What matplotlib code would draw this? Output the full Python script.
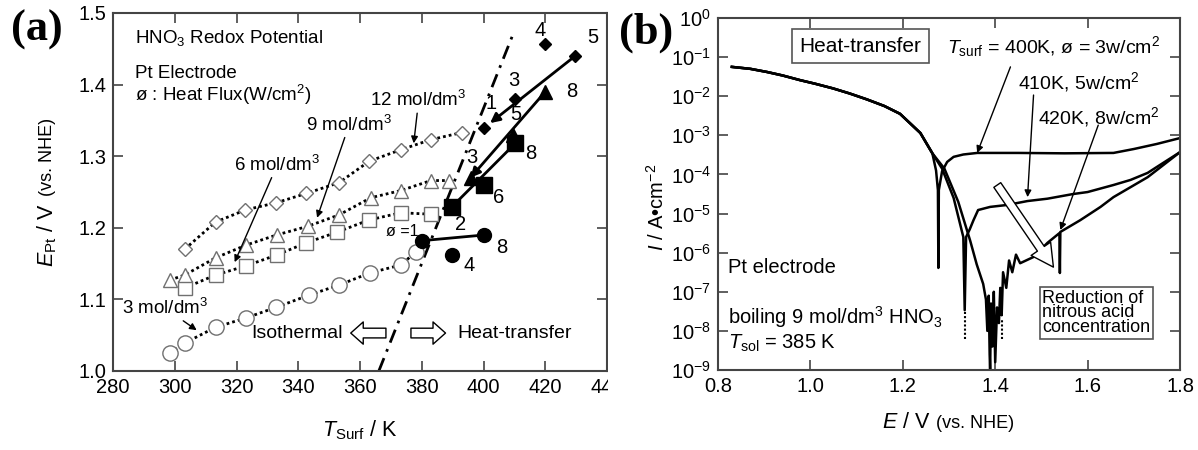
import matplotlib
matplotlib.use("Agg")
import numpy as np
import matplotlib.pyplot as plt
from matplotlib.patches import Rectangle
from matplotlib.ticker import LogLocator, NullLocator, FormatStrFormatter

plt.rcParams['font.family'] = ['Liberation Sans', 'DejaVu Sans']
plt.rcParams['mathtext.fontset'] = 'custom'
plt.rcParams['mathtext.rm'] = 'Liberation Sans'
plt.rcParams['mathtext.it'] = 'Liberation Sans:italic'
plt.rcParams['mathtext.bf'] = 'Liberation Sans:bold'

# ---------------- panel (a): redox potential vs surface temperature
# isothermal points (open markers)
t_3m = [298.4, 303.2, 313.2, 323.0, 332.9, 343.5, 353.2, 363.2, 373.2, 378.0]
e_3m = [1.025, 1.039, 1.061, 1.074, 1.089, 1.106, 1.120, 1.137, 1.148, 1.166]
t_6m = [303.2, 313.2, 323.2, 333.0, 342.6, 352.6, 363.0, 373.2, 383.0]
e_6m = [1.116, 1.134, 1.147, 1.162, 1.179, 1.194, 1.211, 1.221, 1.219]
t_9m = [298.4, 303.2, 313.2, 323.2, 333.0, 343.0, 353.2, 363.5, 373.2, 383.0, 388.7]
e_9m = [1.127, 1.134, 1.158, 1.176, 1.190, 1.202, 1.218, 1.242, 1.252, 1.266, 1.266]
t_12m = [303.2, 313.2, 322.9, 332.9, 342.6, 353.2, 363.0, 373.2, 382.9, 392.9]
e_12m = [1.170, 1.208, 1.225, 1.235, 1.248, 1.263, 1.293, 1.309, 1.323, 1.333]

# heat-transfer points (filled markers), labelled with heat flux
ht_t_3m = [380.0, 389.7, 400.3]
ht_e_3m = [1.182, 1.162, 1.190]
ht_phi_3m = ['ø =1', '4', '8']
ht_t_6m = [389.7, 400.3, 410.3]
ht_e_6m = [1.229, 1.260, 1.318]
ht_phi_6m = ['2', '6', '8']
ht_t_9m = [395.8, 409.7, 420.0]
ht_e_9m = [1.270, 1.330, 1.390]
ht_phi_9m = ['3', '5', '8']
ht_t_12m = [400.0, 410.3, 420.0, 429.7]
ht_e_12m = [1.339, 1.380, 1.457, 1.440]
ht_phi_12m = ['1', '3', '4', '5']

# isothermal / heat-transfer boundary
bound_t = [366.1, 410.0]
bound_e = [1.0, 1.475]

# ---------------- panel (b): polarisation curves (log10 of current density)
cath_e = [0.83, 0.87, 0.906, 0.94, 0.978, 1.01, 1.049, 1.085, 1.122, 1.16, 1.194, 1.238, 1.264]
cath_log = [-1.25, -1.30, -1.38, -1.47, -1.59, -1.68, -1.80, -1.93, -2.08, -2.25, -2.45, -2.94, -3.46]

c400_e = cath_e + [1.272, 1.276, 1.277, 1.278, 1.285, 1.296, 1.31, 1.331, 1.361, 1.45, 1.55,
                   1.656, 1.70, 1.75, 1.80]
c400_log = cath_log + [-3.90, -4.40, -6.39, -4.40, -3.92, -3.68, -3.55, -3.49, -3.45, -3.45, -3.46,
                       -3.45, -3.35, -3.22, -3.07]
c410_e = cath_e + [1.285, 1.31, 1.331, 1.334, 1.337, 1.345, 1.353, 1.363, 1.389, 1.426, 1.47,
                   1.513, 1.569, 1.60, 1.656, 1.693, 1.73, 1.751, 1.80]
c410_log = cath_log + [-3.85, -4.60, -5.60, -7.47, -5.60, -5.40, -5.17, -4.91, -4.83, -4.78, -4.68,
                       -4.62, -4.50, -4.45, -4.27, -4.14, -3.96, -3.80, -3.43]
c420_e = cath_e + [1.29, 1.32, 1.346, 1.36, 1.374, 1.380, 1.383, 1.386, 1.388, 1.389, 1.391, 1.394,
                   1.397, 1.40, 1.404, 1.408, 1.411, 1.414, 1.417, 1.424, 1.43, 1.437, 1.445, 1.454,
                   1.483, 1.513, 1.539, 1.540, 1.541, 1.584, 1.628, 1.656, 1.73, 1.80]
c420_log = cath_log + [-3.85, -4.70, -5.70, -6.30, -6.80, -7.20, -8.00, -7.10, -8.60, -9.0, -7.3, -8.4,
                       -7.0, -8.8, -7.4, -7.8, -6.9, -7.6, -6.5, -6.9, -6.2, -6.5, -6.05, -6.27,
                       -6.11, -5.75, -5.50, -6.52, -5.47, -5.17, -4.83, -4.58, -4.07, -3.43]
# dotted tails below the dips
tail_e = [1.335, 1.414]
tail_top = [-7.5, -7.7]
tail_bot = [-8.2, -8.2]

fig = plt.figure(figsize=(11.98, 4.5), dpi=100)
ax_a = fig.add_axes([113 / 1198, 1 - 371 / 450, 494 / 1198, 358 / 450])
ax_b = fig.add_axes([718 / 1198, 1 - 370 / 450, 462 / 1198, 352 / 450])
ax_b.set_zorder(2)


def style_axes(ax):
    for s in ax.spines.values():
        s.set_color('#444444')
        s.set_linewidth(1.5)
    ax.tick_params(direction='in', top=True, right=True, length=7, width=1.2,
                   color='#444444', labelsize=14.5, pad=5)


# ---- (a)
style_axes(ax_a)
dots = (0, (1, 1.1))
for t, e, mk, ms in [(t_3m, e_3m, 'o', 11), (t_6m, e_6m, 's', 10),
                     (t_9m, e_9m, '^', 10), (t_12m, e_12m, 'D', 6.8)]:
    ax_a.plot(t, e, color='black', ls=dots, lw=2, marker=mk, ms=ms, mfc='white',
              mec='#707070', mew=1.0, zorder=3)

# (t, e, labels, marker, size, label offsets, label sizes, arrow style, arrow shrink)
ht_sets = [(ht_t_3m, ht_e_3m, ht_phi_3m, 'o', 10, [(-3, 9), (17, -10), (17, -13)], [11.5, 14.5, 14.5], '-', 0),
           (ht_t_6m, ht_e_6m, ht_phi_6m, 's', 11, [(9, -17), (14, -13), (15, -10)], [14.5] * 3, '-', 0),
           (ht_t_9m, ht_e_9m, ht_phi_9m, '^', 10, [(1, 20), (2, 20), (26, 0)], [14.5] * 3, '-|>', 0),
           (ht_t_12m, ht_e_12m, ht_phi_12m, 'D', 6.5, [(8, 25), (-1, 18), (-5, 13), (18, 18)], [14.5] * 4, '-|>', 6)]
for t, e, labs, mk, ms, offs, fs, style, shr in ht_sets:
    ax_a.annotate('', xy=(t[0], e[0]), xytext=(t[-1], e[-1]),
                  arrowprops=dict(arrowstyle=style, lw=2, color='black', shrinkA=0, shrinkB=shr,
                                  mutation_scale=14), zorder=4)
    ax_a.plot(t, e, ls='none', marker=mk, ms=ms, color='black', zorder=5)
    for ti, ei, lab, off, f in zip(t, e, labs, offs, fs):
        ax_a.annotate(lab, xy=(ti, ei), xytext=off, textcoords='offset pixels',
                      ha='right' if lab.startswith('ø') else 'center', va='center', fontsize=f)

ax_a.plot(bound_t, bound_e, color='black', lw=2, ls=(0, (5, 2.5, 1, 2.5)), zorder=2)

ax_a.set_xlim(280, 440)
ax_a.set_ylim(1.0, 1.5)
ax_a.set_xticks(np.arange(280, 441, 20))
ax_a.set_yticks(np.arange(1.0, 1.51, 0.1))
ax_a.yaxis.set_major_formatter(FormatStrFormatter('%.1f'))

ax_a.text(0.0445, 0.930, 'HNO$_3$ Redox Potential', transform=ax_a.transAxes, fontsize=13.5, va='center')
ax_a.text(0.0445, 0.832, 'Pt Electrode', transform=ax_a.transAxes, fontsize=13.5, va='center')
ax_a.text(0.0445, 0.771, 'ø : Heat Flux(W/cm$^2$)', transform=ax_a.transAxes, fontsize=13.5, va='center')

conc_notes = [('12 mol/dm$^3$', (379.0, 1.378), (377.4, 1.318)),
              ('9 mol/dm$^3$', (356.5, 1.344), (346.1, 1.214)),
              ('6 mol/dm$^3$', (333.2, 1.288), (319.4, 1.152)),
              ('3 mol/dm$^3$', (296.8, 1.088), (307.1, 1.057))]
for txt, pos, tip in conc_notes:
    ax_a.annotate(txt, xy=tip, xytext=pos, ha='center', va='center', fontsize=13.5,
                  arrowprops=dict(arrowstyle='-|>', lw=1.0, color='black', shrinkA=0, shrinkB=0,
                                  mutation_scale=10))

hollow = dict(arrowstyle='simple,head_width=1.6,head_length=0.9,tail_width=0.7', fc='white',
              ec='black', lw=1.0, mutation_scale=10, shrinkA=0, shrinkB=0)
ax_a.annotate('', xy=(357.0, 1.053), xytext=(368.4, 1.053), arrowprops=hollow)
ax_a.annotate('', xy=(387.7, 1.053), xytext=(376.5, 1.053), arrowprops=hollow)
ax_a.text(354.5, 1.053, 'Isothermal', ha='right', va='center', fontsize=14)
ax_a.text(391.6, 1.053, 'Heat-transfer', ha='left', va='center', fontsize=14)

fig.text(360 / 1198, 1 - 430 / 450, r'$T_{\rm Surf}$ / K', ha='center', va='center', fontsize=15.5)
fig.text(47 / 1198, 1 - 235 / 450, r'$E_{\rm Pt}$ / V', rotation=90, ha='center', va='center', fontsize=15.5)
fig.text(48 / 1198, 1 - 157 / 450, '(vs. NHE)', rotation=90, ha='center', va='center', fontsize=13)

# white strip: panel (a) is cut off where panel (b) starts
fig.add_artist(Rectangle((607.5 / 1198, 0), 1 - 607.5 / 1198, 1, transform=fig.transFigure,
                         fc='white', ec='none', zorder=1))

# ---- (b)
style_axes(ax_b)
for e, lg in [(c400_e, c400_log), (c410_e, c410_log), (c420_e, c420_log)]:
    ax_b.plot(e, 10.0 ** np.array(lg), color='black', lw=1.8)
ax_b.vlines(tail_e, 10.0 ** np.array(tail_bot), 10.0 ** np.array(tail_top), colors='black',
            linestyles=(0, (1, 1)), lw=1.5)
ax_b.set_yscale('log')
ax_b.set_xlim(0.8, 1.8)
ax_b.set_ylim(1e-9, 1)
ax_b.yaxis.set_major_locator(LogLocator(base=10, numticks=20))
ax_b.yaxis.set_minor_locator(NullLocator())
ax_b.set_xticks(np.arange(0.8, 1.81, 0.2))
ax_b.xaxis.set_major_formatter(FormatStrFormatter('%.1f'))

ax_b.text(1.108, 10 ** -0.716, 'Heat-transfer', ha='center', va='center', fontsize=15,
          bbox=dict(boxstyle='square,pad=0.35', fc='white', ec='#555555', lw=1.2))
ax_b.text(1.296, 10 ** -0.74, r'$T_{\rm surf}$ = 400K, ø = 3w/cm$^2$', ha='left', va='center', fontsize=14)
ax_b.text(1.45, 10 ** -1.64, '410K, 5w/cm$^2$', ha='left', va='center', fontsize=14)
ax_b.text(1.493, 10 ** -2.53, '420K, 8w/cm$^2$', ha='left', va='center', fontsize=14)
thin = dict(arrowstyle='-|>', lw=1.0, color='black', shrinkA=0, shrinkB=0, mutation_scale=10)
ax_b.annotate('', xy=(1.361, 10 ** -3.45), xytext=(1.433, 10 ** -1.25), arrowprops=thin)
ax_b.annotate('', xy=(1.47, 10 ** -4.58), xytext=(1.483, 10 ** -1.97), arrowprops=thin)
ax_b.annotate('', xy=(1.541, 10 ** -5.42), xytext=(1.623, 10 ** -2.74), arrowprops=thin)

ax_b.annotate('', xy=(1.526, 10 ** -6.37), xytext=(1.4045, 10 ** -4.27),
              arrowprops=dict(arrowstyle='simple,head_width=1.7,head_length=1.6,tail_width=0.6',
                              fc='white', ec='black', lw=1.0, mutation_scale=10, shrinkA=0, shrinkB=0))
ax_b.text(1.619, 10 ** -7.54, 'Reduction of\nnitrous acid\nconcentration', ha='center', va='center',
          multialignment='left', fontsize=13, linespacing=0.82,
          bbox=dict(boxstyle='square,pad=0.15', fc='white', ec='#555555', lw=1.2))

ax_b.text(0.822, 10 ** -6.39, 'Pt electrode', ha='left', va='center', fontsize=14.5)
ax_b.text(0.822, 10 ** -7.65, 'boiling 9 mol/dm$^3$ HNO$_3$', ha='left', va='center', fontsize=14.5)
ax_b.text(0.822, 10 ** -8.31, r'$T_{\rm sol}$ = 385 K', ha='left', va='center', fontsize=14.5)

fig.text(657 / 1198, 1 - 207 / 450, r'$I$ / A•cm$^{-2}$', rotation=90, ha='center', va='center', fontsize=14.5)
fig.text(931 / 1198, 1 - 428 / 450, '$E$ / V', ha='right', va='baseline', fontsize=15.5)
fig.text(936 / 1198, 1 - 428 / 450, '(vs. NHE)', ha='left', va='baseline', fontsize=13)

fig.text(37 / 1198, 1 - 30 / 450, '(a)', family='Liberation Serif', weight='bold', fontsize=32,
         ha='center', va='center')
fig.text(646 / 1198, 1 - 33 / 450, '(b)', family='Liberation Serif', weight='bold', fontsize=32,
         ha='center', va='center')

fig.savefig('out.png', dpi=100)
